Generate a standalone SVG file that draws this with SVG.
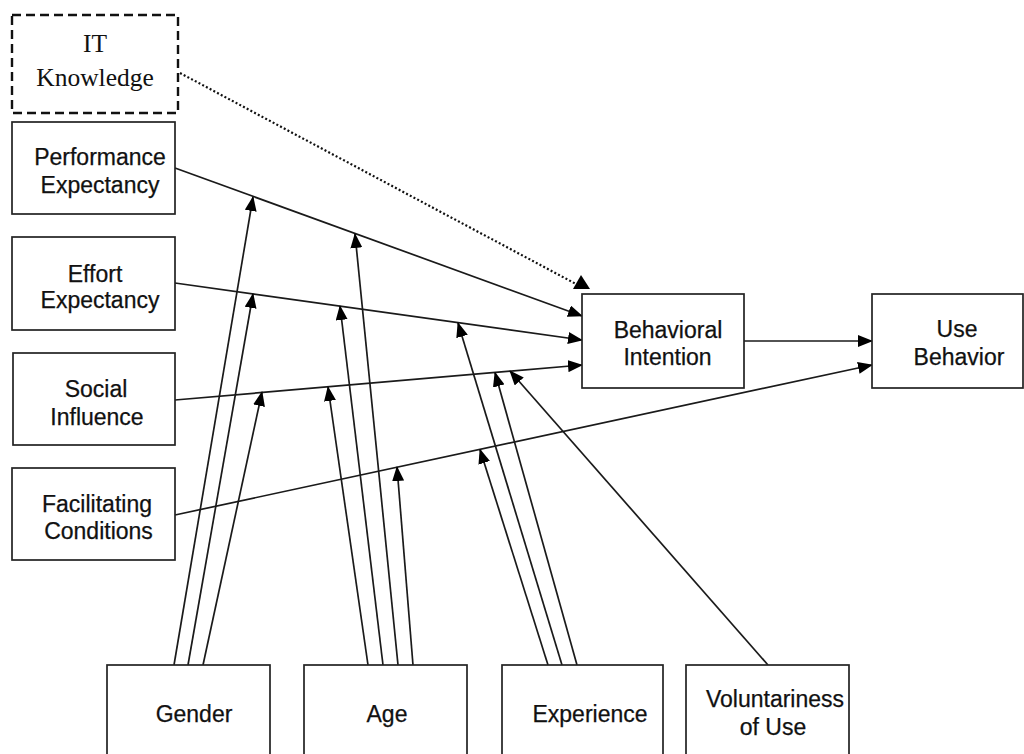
<svg xmlns="http://www.w3.org/2000/svg" width="1024" height="754" viewBox="0 0 1024 754">
<defs>
<marker id="ah" markerUnits="userSpaceOnUse" markerWidth="15" markerHeight="12" viewBox="0 0 15 12" refX="14" refY="6" orient="auto">
<path d="M0,0 L15,6 L0,12 z" fill="#000"/>
</marker>
<style>
.box{fill:#fff;stroke:#222;stroke-width:1.7}
.dbox{fill:#fff;stroke:#111;stroke-width:2.4;stroke-dasharray:9 5}
.t{font-family:"Liberation Sans",Arial,sans-serif;font-size:23px;fill:#111;stroke:#111;stroke-width:0.25;text-anchor:middle}
.ts{font-family:"Liberation Serif","Times New Roman",serif;font-size:25.5px;fill:#111;text-anchor:middle}
.c{stroke:#1a1a1a;stroke-width:1.7;fill:none;marker-end:url(#ah)}
.d{stroke:#111;stroke-width:2.2;fill:none;stroke-dasharray:2 2.2}
</style>
</defs>
<rect width="1024" height="754" fill="#fff"/>
<g id="connectors">
<line class="c" x1="175" y1="168" x2="582" y2="316"/>
<line class="c" x1="175" y1="283" x2="582" y2="340"/>
<line class="c" x1="175" y1="400" x2="582" y2="365"/>
<line class="c" x1="175" y1="515" x2="872" y2="365"/>
<line class="c" x1="744" y1="341" x2="872" y2="341"/>
<line class="c" x1="174" y1="665" x2="253" y2="197"/>
<line class="c" x1="188" y1="665" x2="253" y2="294"/>
<line class="c" x1="203" y1="665" x2="262" y2="392"/>
<line class="c" x1="368" y1="665" x2="328" y2="387"/>
<line class="c" x1="383" y1="665" x2="340" y2="306"/>
<line class="c" x1="398" y1="665" x2="355" y2="234"/>
<line class="c" x1="413" y1="665" x2="397" y2="467"/>
<line class="c" x1="548" y1="665" x2="480" y2="449.5"/>
<line class="c" x1="562" y1="665" x2="458" y2="323"/>
<line class="c" x1="577" y1="665" x2="495" y2="372.5"/>
<line class="c" x1="768" y1="665" x2="510" y2="371"/>
<line class="d" x1="180" y1="73" x2="576" y2="284"/>
<polygon points="573,289 590,289 581,275" fill="#000"/>
</g>
<g id="it-knowledge">
<rect class="dbox" x="12" y="15" width="166" height="98"/>
<text class="ts" x="95" y="52">IT</text>
<text class="ts" x="95" y="86">Knowledge</text>
</g>
<g id="performance-expectancy">
<rect class="box" x="12" y="122" width="163" height="92"/>
<text class="t" x="100" y="165">Performance</text>
<text class="t" x="100" y="192.5">Expectancy</text>
</g>
<g id="effort-expectancy">
<rect class="box" x="12" y="237" width="163" height="93"/>
<text class="t" x="95" y="281.5">Effort</text>
<text class="t" x="100" y="307.5">Expectancy</text>
</g>
<g id="social-influence">
<rect class="box" x="13" y="353" width="162" height="92"/>
<text class="t" x="96" y="396.5">Social</text>
<text class="t" x="97" y="425">Influence</text>
</g>
<g id="facilitating-conditions">
<rect class="box" x="12" y="468" width="163" height="92"/>
<text class="t" x="97" y="511.5">Facilitating</text>
<text class="t" x="98.5" y="539">Conditions</text>
</g>
<g id="behavioral-intention">
<rect class="box" x="582" y="294" width="162" height="94"/>
<text class="t" x="668" y="337.5">Behavioral</text>
<text class="t" x="667.5" y="365">Intention</text>
</g>
<g id="use-behavior">
<rect class="box" x="872" y="294" width="151" height="94"/>
<text class="t" x="957" y="337">Use</text>
<text class="t" x="959" y="365">Behavior</text>
</g>
<g id="gender">
<rect class="box" x="107" y="665" width="163" height="100"/>
<text class="t" x="194" y="721.5">Gender</text>
</g>
<g id="age">
<rect class="box" x="304" y="665" width="163" height="100"/>
<text class="t" x="387" y="721.5">Age</text>
</g>
<g id="experience">
<rect class="box" x="502" y="665" width="161" height="100"/>
<text class="t" x="590" y="721.5">Experience</text>
</g>
<g id="voluntariness-of-use">
<rect class="box" x="686" y="665" width="163" height="100"/>
<text class="t" x="775" y="706.5">Voluntariness</text>
<text class="t" x="773" y="735">of Use</text>
</g>
</svg>
